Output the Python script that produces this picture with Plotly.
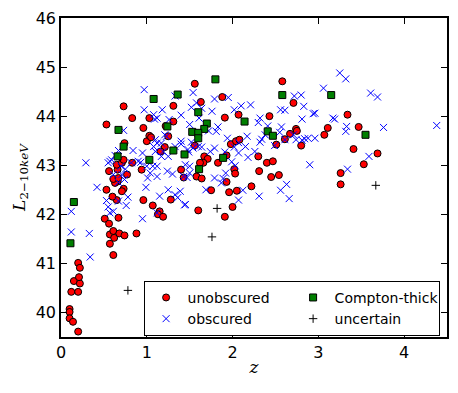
import plotly.graph_objects as go

# redshift z and log L(2-10 keV) per class
unobscured_z = [0.10, 0.10, 0.10, 0.14, 0.20, 0.12, 0.20, 0.15, 0.22, 0.21, 0.20, 0.22,
                0.61, 0.57, 0.57, 0.61, 0.62, 0.68, 0.74, 0.88, 0.51, 0.67, 0.56,
                1.15, 1.13, 1.19, 1.07, 0.96, 1.28, 0.65, 0.60, 0.53, 0.73, 0.71,
                0.66, 0.63, 0.61, 0.67, 0.66, 0.77, 0.56, 0.65, 0.71, 0.83, 0.73,
                0.94, 0.74, 1.00, 1.03, 0.96, 0.83, 0.53, 1.31, 1.21, 1.16, 1.40,
                1.43, 0.73, 1.31, 1.56, 1.03, 1.22, 1.63, 1.88, 1.91, 2.07, 2.43,
                2.58, 2.71, 2.74, 1.98, 2.04, 2.08, 1.56, 1.67, 1.71, 1.66,
                1.62, 1.83, 2.02, 2.03, 1.58, 1.64, 1.93, 2.30, 2.40, 2.47, 2.31,
                2.45, 2.54, 2.22, 1.75, 1.96, 2.05, 2.00, 1.60, 1.91, 2.67, 2.75,
                2.61, 2.80, 2.51, 3.07, 3.34, 3.11, 3.47, 3.41, 3.69, 3.53, 3.26,
                3.26, 1.93, 1.05, 1.25]
unobscured_L = [40.07, 40.01, 39.88, 39.81, 39.61, 40.42, 40.42, 40.64, 40.59, 40.72, 41.01, 40.91,
                41.17, 41.40, 41.59, 41.66, 41.52, 41.61, 41.57, 41.61, 41.91, 41.93, 41.81,
                42.06, 42.00, 41.95, 42.18, 42.29, 42.30, 42.29, 42.36, 42.50, 42.52, 42.47,
                42.67, 42.64, 42.72, 42.74, 42.91, 42.81, 42.88, 43.01, 43.05, 43.05, 43.11,
                42.91, 43.45, 43.49, 43.60, 43.76, 43.96, 43.83, 43.89, 43.37, 43.28, 42.91,
                42.75, 44.20, 44.21, 44.66, 43.96, 43.80, 44.29, 44.39, 43.97, 44.03, 44.00,
                44.71, 44.27, 43.74, 43.43, 43.49, 43.52, 43.40, 43.18, 43.13, 43.05,
                43.05, 43.05, 42.92, 42.83, 42.77, 42.73, 42.66, 43.18, 43.05, 43.08, 42.88,
                42.76, 42.80, 42.57, 42.49, 42.45, 42.48, 42.15, 42.08, 41.95, 43.64, 43.70,
                43.53, 43.40, 43.42, 43.62, 44.03, 43.76, 43.78, 43.33, 43.24, 43.02, 42.84,
                42.61, 43.20, 43.57, 43.59]

obscured_z = [0.97, 1.33, 0.97, 1.18, 1.54, 1.52, 1.09, 1.40, 1.26, 1.50, 0.73, 1.10, 1.08,
              1.17, 1.40, 0.67, 0.84, 0.95, 0.57, 0.29, 1.07, 1.04, 1.12, 0.42, 0.99, 0.67,
              0.53, 1.33, 1.36, 1.39, 1.44, 0.55, 0.76, 0.95, 0.12, 0.12, 0.33, 0.34, 0.63,
              0.93, 1.01, 1.24, 1.30, 1.43, 1.50, 0.67, 0.74, 0.78, 0.61, 1.17, 1.49, 1.21,
              1.12, 1.08, 1.23, 1.12, 1.33, 1.40, 1.10, 1.19, 1.25, 1.00, 0.90, 0.82, 0.59,
              0.55, 0.70, 0.75, 0.61, 0.71, 1.12, 1.25, 1.15, 1.12, 1.45, 1.50, 0.57,
              1.79, 1.95, 1.76, 2.02, 2.10, 2.21, 2.32, 2.30, 2.72, 2.80, 2.83, 2.56, 2.61,
              2.94, 2.81, 3.06, 1.83, 2.41, 2.57, 1.58, 1.64, 1.61, 1.81, 1.72, 2.55, 2.49,
              2.34, 2.38, 1.94, 2.17, 2.07, 2.15, 2.26, 2.18, 2.07, 1.91, 1.99, 1.92, 1.79,
              1.89, 1.52, 1.60, 1.54, 1.48, 1.47, 3.17, 2.71, 2.74, 2.84, 2.88, 2.96, 2.90,
              2.32, 2.02, 2.63, 2.56, 2.66, 2.31, 2.07, 2.12, 1.69, 1.45, 1.87, 2.03, 1.79,
              1.74, 1.64, 2.61, 2.81, 3.25, 3.32, 3.61, 3.69, 3.19, 3.33, 3.76, 4.38, 2.96,
              3.32, 3.59, 3.34]
obscured_L = [44.54, 44.41, 44.13, 44.13, 44.48, 44.18, 43.94, 44.02, 43.93, 43.83, 43.71, 43.52, 43.38,
              43.18, 43.43, 43.30, 43.30, 43.25, 43.08, 43.05, 42.98, 42.84, 42.77, 42.55, 42.55, 42.27,
              42.28, 42.40, 42.34, 42.47, 42.19, 42.15, 42.18, 41.91, 42.06, 41.64, 41.61, 41.13, 43.20,
              43.06, 42.74, 42.88, 42.82, 42.77, 42.84, 42.65, 42.71, 42.35, 42.06, 43.45, 43.27, 43.62,
              43.96, 44.03, 43.59, 43.45, 43.38, 43.49, 43.28, 43.28, 43.18, 42.98, 43.08, 43.05, 43.11,
              43.05, 42.98, 42.92, 42.81, 42.81, 42.98, 42.50, 42.37, 42.03, 43.01, 42.98, 42.03,
              44.35, 44.38, 44.10, 44.13, 44.21, 44.23, 43.96, 43.87, 44.41, 44.43, 44.20, 44.13, 44.12,
              44.05, 43.94, 44.57, 43.78, 43.80, 43.78, 44.27, 44.16, 43.96, 43.69, 43.70, 43.67, 43.40,
              43.53, 43.62, 43.55, 43.59, 43.46, 43.38, 43.28, 43.16, 43.25, 43.27, 43.07, 42.84, 42.74,
              42.73, 43.47, 43.38, 43.35, 43.32, 42.75, 43.96, 43.62, 43.52, 43.54, 43.55, 43.55, 43.01,
              43.47, 43.37, 42.61, 42.49, 42.32, 42.37, 42.29, 42.49, 42.50, 42.20, 42.64, 42.99, 43.35,
              43.28, 43.37, 43.52, 43.51, 44.88, 44.76, 44.47, 44.39, 43.94, 43.79, 43.77, 43.81, 44.06,
              43.69, 43.18, 42.92]

cthick_z = [0.11, 0.15, 0.67, 1.08, 1.36, 1.24, 0.73, 0.66, 1.03, 1.31, 1.44, 1.53, 1.80,
            1.60, 1.70, 1.67, 1.60, 1.60, 2.14, 1.89, 1.61, 2.41, 2.47, 2.58, 3.15, 3.55]
cthick_L = [41.41, 42.25, 43.72, 44.35, 44.44, 43.79, 43.38, 43.18, 43.11, 43.30, 43.22, 43.68, 44.75,
            44.08, 43.85, 43.74, 43.66, 43.55, 43.89, 43.15, 42.92, 43.69, 43.60, 44.43, 44.43, 43.62]

uncertain_z = [0.78, 1.82, 1.76, 3.67]
uncertain_L = [40.45, 42.12, 41.54, 42.59]

x_ticks = [0, 1, 2, 3, 4]
y_ticks = [40, 41, 42, 43, 44, 45, 46]

fig = go.Figure()

fig.add_trace(go.Scatter(
    x=unobscured_z, y=unobscured_L, mode='markers', name='unobscured', legendrank=1,
    marker=dict(symbol='circle', size=7, color='#ff0000', line=dict(color='black', width=1))
))
fig.add_trace(go.Scatter(
    x=obscured_z, y=obscured_L, mode='markers', name='obscured', legendrank=3,
    marker=dict(symbol='x-thin', size=7, color='#0000ff', line=dict(color='#0000ff', width=1))
))
fig.add_trace(go.Scatter(
    x=cthick_z, y=cthick_L, mode='markers', name='Compton-thick', legendrank=2,
    marker=dict(symbol='square', size=7, color='#007f00', line=dict(color='black', width=1))
))
fig.add_trace(go.Scatter(
    x=uncertain_z, y=uncertain_L, mode='markers', name='uncertain', legendrank=4,
    marker=dict(symbol='cross-thin', size=6, color='black', line=dict(color='black', width=1))
))

axis_style = dict(
    showline=True, linecolor='black', linewidth=1.5, mirror='allticks',
    ticks='inside', ticklen=6, tickwidth=1, tickcolor='black',
    showgrid=False, zeroline=False, automargin=False,
    tickfont=dict(family='DejaVu Sans', size=16, color='black'),
)

fig.update_xaxes(
    range=[0, 4.5], tickvals=x_ticks, ticktext=[str(t) for t in x_ticks],
    title=dict(text='<i>z</i>', font=dict(family='DejaVu Serif', size=17, color='black'), standoff=0),
    **axis_style
)
fig.update_yaxes(
    range=[39.5, 46], tickvals=y_ticks, ticktext=[str(t) for t in y_ticks],
    title=dict(text='<i>L</i><sub>2\u221210<i>keV</i></sub>',
               font=dict(family='DejaVu Serif', size=17, color='black'), standoff=6),
    **axis_style
)

# the page body adds an 8px offset, so the figure is sized to end at the window edge
fig.update_layout(
    width=450, height=385,
    paper_bgcolor='white', plot_bgcolor='white',
    margin=dict(l=53, r=11, t=10, b=56),
    legend=dict(
        orientation='h', x=0.214, y=0.176, xanchor='left', yanchor='top',
        entrywidth=99, entrywidthmode='pixels',
        bgcolor='white', bordercolor='black', borderwidth=1,
        font=dict(family='DejaVu Sans', size=14, color='black'),
        tracegroupgap=0, itemwidth=33,
    ),
)

fig.write_html("out.html")
